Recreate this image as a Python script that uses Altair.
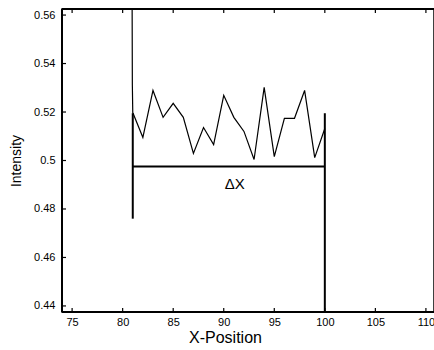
import altair as alt
import pandas as pd

# Profile line (x position, intensity); first samples form the clipped spike at the left edge
line_x = [80.9, 80.96, 81, 82, 83, 84, 85, 86, 87, 88, 89, 90, 91, 92, 93, 94, 95, 96, 97, 98, 99, 100]
line_y = [0.62, 0.531, 0.5198, 0.5095, 0.5289, 0.5178, 0.5236, 0.5178, 0.5029, 0.5136, 0.5066,
          0.5269, 0.5178, 0.5120, 0.5004, 0.5302, 0.5016, 0.5174, 0.5174, 0.5289, 0.5012, 0.5132]

# Delta-X bracket segments
br_x = [81, 100, 81]
br_x2 = [81, 100, 100]
br_y = [0.5195, 0.5195, 0.4975]
br_y2 = [0.476, 0.4375, 0.4975]

label_x = [91.1]
label_y = [0.4905]
label_text = ["ΔX"]

x_ticks = [75, 80, 85, 90, 95, 100, 105, 110]
y_ticks = [0.44, 0.46, 0.48, 0.5, 0.52, 0.54, 0.56]
x_domain = [74, 110.8]
y_domain = [0.4375, 0.5625]

df_line = pd.DataFrame({"x": line_x, "y": line_y, "o": list(range(len(line_x)))})
df_br = pd.DataFrame({"x": br_x, "x2": br_x2, "y": br_y, "y2": br_y2})
df_lab = pd.DataFrame({"x": label_x, "y": label_y, "t": label_text})
# plot frame along the domain edges (bottom, top, left)
df_frame = pd.DataFrame({
    "x": [x_domain[0], x_domain[0], x_domain[0]],
    "x2": [x_domain[1], x_domain[1], x_domain[0]],
    "y": [y_domain[0], y_domain[1], y_domain[0]],
    "y2": [y_domain[0], y_domain[1], y_domain[1]],
})
# inward tick marks on the frame (bottom, top for x ticks; left for y ticks)
df_xt = pd.DataFrame({"x": x_ticks * 2, "y": [y_domain[0]] * len(x_ticks) + [y_domain[1]] * len(x_ticks)})
df_yt = pd.DataFrame({"x": [x_domain[0]] * len(y_ticks), "y": y_ticks})

FONT = "Liberation Sans"
xscale = alt.Scale(domain=x_domain, nice=False, zero=False)
yscale = alt.Scale(domain=y_domain, nice=False, zero=False)

x_axis = alt.Axis(values=x_ticks, domain=False, ticks=True, tickSize=0, labelPadding=4,
                  labelFont=FONT, labelFontSize=11, labelColor="black",
                  title="X-Position", titleFont=FONT, titleFontSize=16, titleFontWeight="normal",
                  titleColor="black", titleX=163, titlePadding=2, grid=False)
y_axis = alt.Axis(values=y_ticks, format=".2~f", domain=False, ticks=True, tickSize=0, labelPadding=7,
                  labelFont=FONT, labelFontSize=11, labelColor="black",
                  title="Intensity", titleFont=FONT, titleFontSize=14, titleFontWeight="normal",
                  titleColor="black", titlePadding=10, grid=False)

line = alt.Chart(df_line).mark_line(color="black", strokeWidth=1.2, clip=True).encode(
    x=alt.X("x:Q", scale=xscale, axis=x_axis),
    y=alt.Y("y:Q", scale=yscale, axis=y_axis),
    order="o:Q",
)

frame = alt.Chart(df_frame).mark_rule(color="black", strokeWidth=2).encode(
    x="x:Q", x2="x2:Q", y="y:Q", y2="y2:Q",
)

brackets = alt.Chart(df_br).mark_rule(color="black", strokeWidth=2).encode(
    x="x:Q", x2="x2:Q", y="y:Q", y2="y2:Q",
)

label = alt.Chart(df_lab).mark_text(font=FONT, fontSize=15, color="black", baseline="middle").encode(
    x="x:Q", y="y:Q", text="t:N",
)

xticks_layer = alt.Chart(df_xt).mark_tick(orient="vertical", size=8, thickness=1.2, color="black",
                                          opacity=1, clip=True).encode(x="x:Q", y="y:Q")
yticks_layer = alt.Chart(df_yt).mark_tick(orient="horizontal", size=8, thickness=1.2, color="black",
                                          opacity=1, clip=True).encode(x="x:Q", y="y:Q")

chart = alt.layer(line, frame, brackets, label, xticks_layer, yticks_layer).properties(
    width=372, height=303,
    autosize=alt.AutoSizeParams(type="none"),
    padding={"left": 62, "top": 9, "right": 0, "bottom": 38},
).configure_view(stroke="black", strokeWidth=1.5)

chart.save("out.html", embed_options={"renderer": "svg", "actions": False})
